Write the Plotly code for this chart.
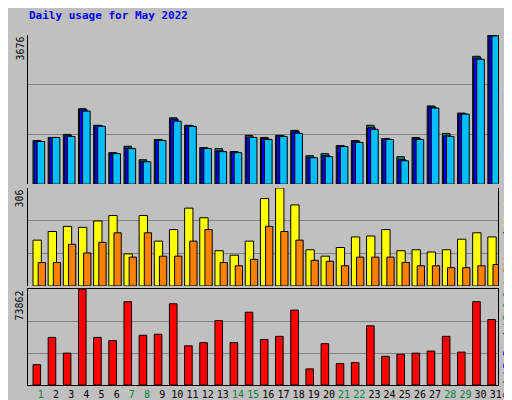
import plotly.graph_objects as go

days = list(range(1, 32))
weekend = [1, 7, 8, 14, 15, 21, 22, 28, 29]

hits = [1075, 1150, 1225, 1859, 1450, 775, 934, 600, 1100, 1634, 1450, 900, 875, 800, 1200,
        1150, 1200, 1325, 700, 750, 950, 1075, 1450, 1125, 675, 1150, 1926, 1250, 1751, 3151, 3676]
files = [1060, 1150, 1190, 1830, 1440, 760, 890, 560, 1085, 1600, 1440, 890, 820, 790, 1160,
         1120, 1190, 1290, 660, 700, 940, 1050, 1390, 1110, 600, 1120, 1900, 1190, 1740, 3110, 3660]
pages = [1050, 1150, 1175, 1800, 1425, 750, 875, 550, 1075, 1550, 1425, 875, 800, 775, 1150,
         1100, 1175, 1250, 650, 675, 925, 1025, 1350, 1100, 575, 1100, 1876, 1175, 1726, 3076, 3651]
visits = [143, 170, 186, 183, 203, 220, 100, 220, 140, 176, 243, 213, 110, 96, 140,
          273, 306, 253, 113, 93, 120, 153, 156, 176, 110, 113, 106, 113, 146, 166, 153]
sites = [73, 73, 130, 103, 136, 166, 90, 166, 93, 93, 140, 176, 73, 63, 83,
         186, 170, 143, 80, 77, 63, 90, 90, 90, 73, 63, 63, 57, 57, 63, 67]
kbytes = [15636, 36665, 24533, 73862, 36665, 34239, 64164, 38283, 39092, 62547, 30195, 32621,
          49606, 32621, 56076, 35048, 37474, 57694, 12402, 31813, 16445, 17254, 45562, 22107,
          23725, 24533, 26151, 37474, 25342, 64164, 50415]

ticktext = [f'<span style="color:#008040">{d}</span>' if d in weekend else str(d) for d in days]
line = dict(color="black", width=1)

fig = go.Figure()
fig.add_trace(go.Bar(x=days, y=hits, marker=dict(color="#008060", line=line), width=0.5, offset=-0.52, yaxis="y"))
fig.add_trace(go.Bar(x=days, y=files, marker=dict(color="#0000ff", line=line), width=0.5, offset=-0.45, yaxis="y"))
fig.add_trace(go.Bar(x=days, y=pages, marker=dict(color="#00bfff", line=line), width=0.5, offset=-0.25, yaxis="y"))
fig.add_trace(go.Bar(x=days, y=visits, marker=dict(color="#ffff00", line=line), width=0.55, offset=-0.52, yaxis="y2"))
fig.add_trace(go.Bar(x=days, y=sites, marker=dict(color="#ff8000", line=line), width=0.48, offset=-0.18, yaxis="y2"))
fig.add_trace(go.Bar(x=days, y=kbytes, marker=dict(color="#ff0000", line=line), width=0.5, offset=-0.52, yaxis="y3"))

yax = dict(showticklabels=False, showgrid=True, gridcolor="#808080", gridwidth=1,
           showline=True, mirror=True, linecolor="black", zeroline=False, ticks="")
fig.update_layout(
    width=512, height=400, barmode="overlay", showlegend=False,
    paper_bgcolor="#c0c0c0", plot_bgcolor="#c0c0c0",
    margin=dict(l=20, r=22, t=27, b=23, autoexpand=False),
    font=dict(family="DejaVu Sans Mono", size=10, color="black"),
    xaxis=dict(range=[0.15, 31.15], tickvals=days, ticktext=ticktext, showgrid=False, tickangle=0,
               tickfont=dict(size=10), showline=True, mirror=True, linecolor="black", ticks="",
               anchor="y3", automargin=False),
    yaxis=dict(domain=[0.574, 1], range=[0, 3676], dtick=3676 / 3, **yax),
    yaxis2=dict(domain=[0.283, 0.563], range=[0, 306], dtick=306 / 3, **yax),
    yaxis3=dict(domain=[0, 0.274], range=[0, 73862], dtick=73862 / 3, **yax),
)
fig.add_annotation(text="<b>Daily usage for May 2022</b>", xref="paper", yref="paper", x=-0.002, y=1.055,
                   xanchor="left", yanchor="middle", showarrow=False, font=dict(color="#0000ff", size=11))
for ref, lab in [("y", "3676"), ("y2", "306"), ("y3", "73862")]:
    fig.add_annotation(text=lab, xref="paper", yref=ref + " domain", x=0, xshift=-1, y=1,
                       xanchor="right", yanchor="top", textangle=-90, showarrow=False)
side = [("y", '<span style="color:#00bfff">Pages</span> / <span style="color:#0000ff">Files</span> / '
              '<span style="color:#008060">Hits</span>'),
        ("y2", '<span style="color:#008060">Out</span> <span style="color:#ff8000">Sites</span> / '
               '<span style="color:#ffff00">Visits</span>'),
        ("y3", '<span style="color:#ff0000">kB F</span> / <span style="color:#0000ff">kB In</span> / '
               '<span style="color:#008060">kB Out</span>')]
for ref, lab in side:
    fig.add_annotation(text=lab, xref="paper", yref=ref + " domain", x=1, xshift=2, y=1,
                       xanchor="left", yanchor="top", textangle=-90, showarrow=False)
fig.write_html("out.html")
